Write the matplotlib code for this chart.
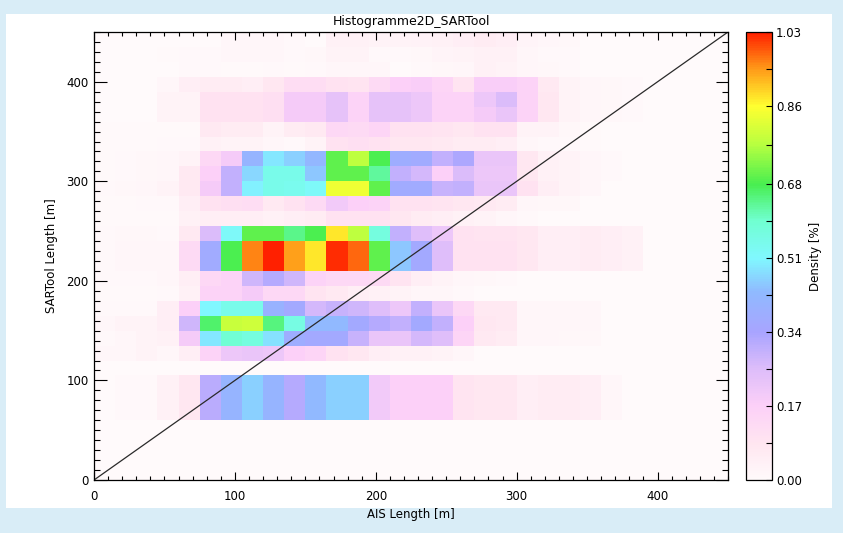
import numpy as np
import matplotlib
matplotlib.use("Agg")
import matplotlib.pyplot as plt
from matplotlib.colors import LinearSegmentedColormap
from matplotlib.patches import Rectangle
from matplotlib.ticker import MultipleLocator, FixedLocator

# bin edges [m] (15 m bins on both axes)
x_edges = np.arange(0, 451, 15)
y_edges = np.arange(0, 451, 15)

# density [%] per 15 m SARTool bin, columns = AIS length bins from 0 m
row_empty = []
row_060 = [0, .01, .01, .04, .08, .31, .41, .46, .41, .32, .43, .46, .46, .20, .17, .17, .17, .09, .08, .08,
           .05, .06, .06, .05, .02]
row_120 = [.02, .02, .03, .02, .05, .16, .21, .22, .21, .17, .15, .10, .08, .05, .04, .04, .03, .02]
row_135 = [.01, .02, .03, .04, .19, .49, .59, .57, .48, .38, .36, .36, .29, .22, .22, .27, .25, .15, .07, .06,
           .02, .02, .015, .015]
row_150 = [.02, .03, .03, .05, .28, .66, .79, .80, .65, .56, .43, .43, .36, .32, .30, .36, .30, .17, .08, .07,
           .02, .02, .02, .02]
row_165 = [.01, .01, .01, .05, .17, .51, .55, .55, .40, .36, .27, .29, .28, .25, .21, .30, .22, .14, .07, .07,
           .02, .02, .02, .02]
row_180 = [.005, .005, .005, .01, .04, .16, .16, .19, .14, .14, .09, .07, .05, .04, .03, .02, .02, .01]
row_195 = [.01, .01, .01, .02, .05, .14, .16, .28, .32, .28, .16, .14, .14, .13, .09, .05, .03, .02, .015, .01]
row_210 = [.01, .02, .02, .02, .13, .37, .68, .96, 1.03, .94, .88, 1.02, .98, .70, .45, .36, .25, .10, .10, .10,
           .08, .05, .05, .06, .05, .04]
row_225 = [.01, .02, .02, .02, .13, .37, .68, .96, 1.03, .94, .88, 1.02, .98, .70, .45, .36, .25, .10, .10, .10,
           .08, .05, .05, .06, .05, .04]
row_240 = [.01, .015, .015, .01, .07, .26, .52, .70, .70, .64, .68, .88, .78, .57, .30, .25, .21, .10, .09, .09,
           .08, .05, .05, .06, .05, .04]
row_255 = [.005, .005, .005, .005, .04, .05, .05, .05, .04, .05, .06, .10, .10, .10, .08, .06, .05, .04, .03, .02,
           .01]
row_270 = [.005, .005, .01, .01, .05, .10, .11, .12, .07, .10, .13, .20, .17, .16, .10, .10, .09, .08, .07, .06,
           .02, .015, .015]
row_285 = [.01, .015, .02, .03, .07, .19, .30, .50, .55, .54, .52, .84, .84, .70, .37, .37, .29, .30, .22, .22,
           .10, .05, .03, .02]
row_300 = [.005, .01, .015, .02, .07, .17, .30, .47, .55, .55, .45, .70, .70, .63, .30, .27, .17, .26, .21, .21,
           .08, .04, .03, .02, .01]
row_315 = [.005, .01, .015, .02, .03, .14, .19, .41, .49, .46, .42, .70, .78, .68, .38, .37, .30, .33, .22, .22,
           .08, .04, .03, .02, .01]
row_330 = [.005, .005, .005, .01, .01, .04, .03, .03, .02, .01, .03, .10, .11, .10, .08, .08, .07, .06, .06, .05,
           .02, .01, .01, .005]
row_345 = [.005, .005, .005, .005, .005, .07, .06, .06, .03, .06, .07, .14, .13, .15, .10, .10, .09, .08, .10, .10,
           .03, .03, .015, .005]
row_360 = [0, 0, 0, .03, .03, .10, .10, .10, .11, .19, .19, .23, .16, .23, .23, .21, .16, .16, .19, .22,
           .16, .08, .03, .02, .015, .01]
row_375 = [0, 0, 0, .03, .03, .10, .10, .10, .11, .19, .19, .23, .16, .23, .23, .21, .16, .16, .21, .26,
           .16, .08, .03, .02, .015, .01]
row_390 = [0, 0, 0, .02, .05, .06, .06, .05, .08, .12, .12, .10, .09, .13, .17, .18, .15, .09, .18, .18,
           .16, .07, .03, .02, .015, .01]
row_405 = [0, 0, 0, 0, .01, .01, .005, .005, .01, .005, .01, .02, .02, .02, 0, .01, .015, .02, .04, .03,
           .02, .015, .01]
row_420 = [0, 0, 0, .005, .01, .01, .02, .02, .02, .01, .015, .03, .03, .01, .01, .015, .025, .03, .04, .04,
           .02, .01, .01]
row_435 = [0, 0, 0, 0, 0, 0, .02, .02, .02, .01, 0, .04, .04, .03, .03, .035, .04, .05, .06, .05,
           .025, .02, .015]

rows = [row_empty, row_empty, row_empty, row_empty, row_060, row_060, row_060, row_empty,
        row_120, row_135, row_150, row_165, row_180, row_195, row_210, row_225, row_240,
        row_255, row_270, row_285, row_300, row_315, row_330, row_345, row_360, row_375,
        row_390, row_405, row_420, row_435]

ncol = len(x_edges) - 1
density = np.zeros((len(rows), ncol))
for k, r in enumerate(rows):
    density[k, :len(r)] = r

vmax = 1.03
cbar_ticks = [0.00, 0.17, 0.34, 0.51, 0.68, 0.86, 1.03]

# white -> pink -> violet -> blue -> cyan -> green -> yellow -> red
stops = [(0.00, "#fffafb"), (0.08, "#ffe6f0"), (0.165, "#fcd0f8"), (0.25, "#dcbcfa"),
         (0.33, "#a8a4ff"), (0.42, "#90baff"), (0.495, "#80f8ff"), (0.58, "#70ffd0"),
         (0.66, "#48ee50"), (0.75, "#b8ff40"), (0.835, "#ffff30"), (0.92, "#ff9818"),
         (1.00, "#ff2000")]
cmap = LinearSegmentedColormap.from_list("sartool", stops)

plt.rcParams["font.family"] = "DejaVu Sans"
plt.rcParams["font.size"] = 8.5

fig = plt.figure(figsize=(8.43, 5.33), dpi=100)
fig.patch.set_facecolor("#d9edf7")
fig.patches.append(Rectangle((6 / 843, 1 - 508 / 533), 826 / 843, 494 / 533,
                             transform=fig.transFigure, facecolor="white", edgecolor="none", zorder=-10))

ax = fig.add_axes([94 / 843, 1 - 480 / 533, 634 / 843, 448 / 533])
mesh = ax.pcolormesh(x_edges, y_edges, density, cmap=cmap, vmin=0, vmax=vmax)
ax.plot([0, 450], [0, 450], color="#2a2a2a", lw=0.9)

ax.set_xlim(0, 450)
ax.set_ylim(0, 450)
ax.xaxis.set_major_locator(MultipleLocator(100))
ax.xaxis.set_minor_locator(MultipleLocator(10))
ax.yaxis.set_major_locator(MultipleLocator(100))
ax.yaxis.set_minor_locator(MultipleLocator(10))
ax.tick_params(axis="x", which="major", direction="in", top=True, length=5.8, width=0.8, pad=7)
ax.tick_params(axis="x", which="minor", direction="in", top=True, length=2.9, width=0.8)
ax.tick_params(axis="y", which="major", direction="in", right=True, length=9, width=0.8, pad=4)
ax.tick_params(axis="y", which="minor", direction="in", right=True, length=4.3, width=0.8)
for s in ax.spines.values():
    s.set_linewidth(0.9)

ax.set_title("Histogramme2D_SARTool", fontsize=9, pad=5)
ax.set_xlabel("AIS Length [m]", labelpad=4)
ax.set_ylabel("SARTool Length [m]", labelpad=6)

cax = fig.add_axes([746 / 843, 1 - 480 / 533, 26 / 843, 448 / 533])
cb = fig.colorbar(mesh, cax=cax, ticks=cbar_ticks, format="%.2f")
cb.ax.yaxis.set_minor_locator(FixedLocator(
    [(a + b) / 2 for a, b in zip(cbar_ticks[:-1], cbar_ticks[1:])]))
cb.ax.tick_params(which="major", direction="in", length=4, width=0.8, pad=3)
cb.ax.tick_params(which="minor", direction="in", length=4, width=0.8)
cb.outline.set_linewidth(0.9)
cb.set_label("Density [%]", labelpad=5)

fig.savefig("out.png", dpi=100, facecolor=fig.get_facecolor())
